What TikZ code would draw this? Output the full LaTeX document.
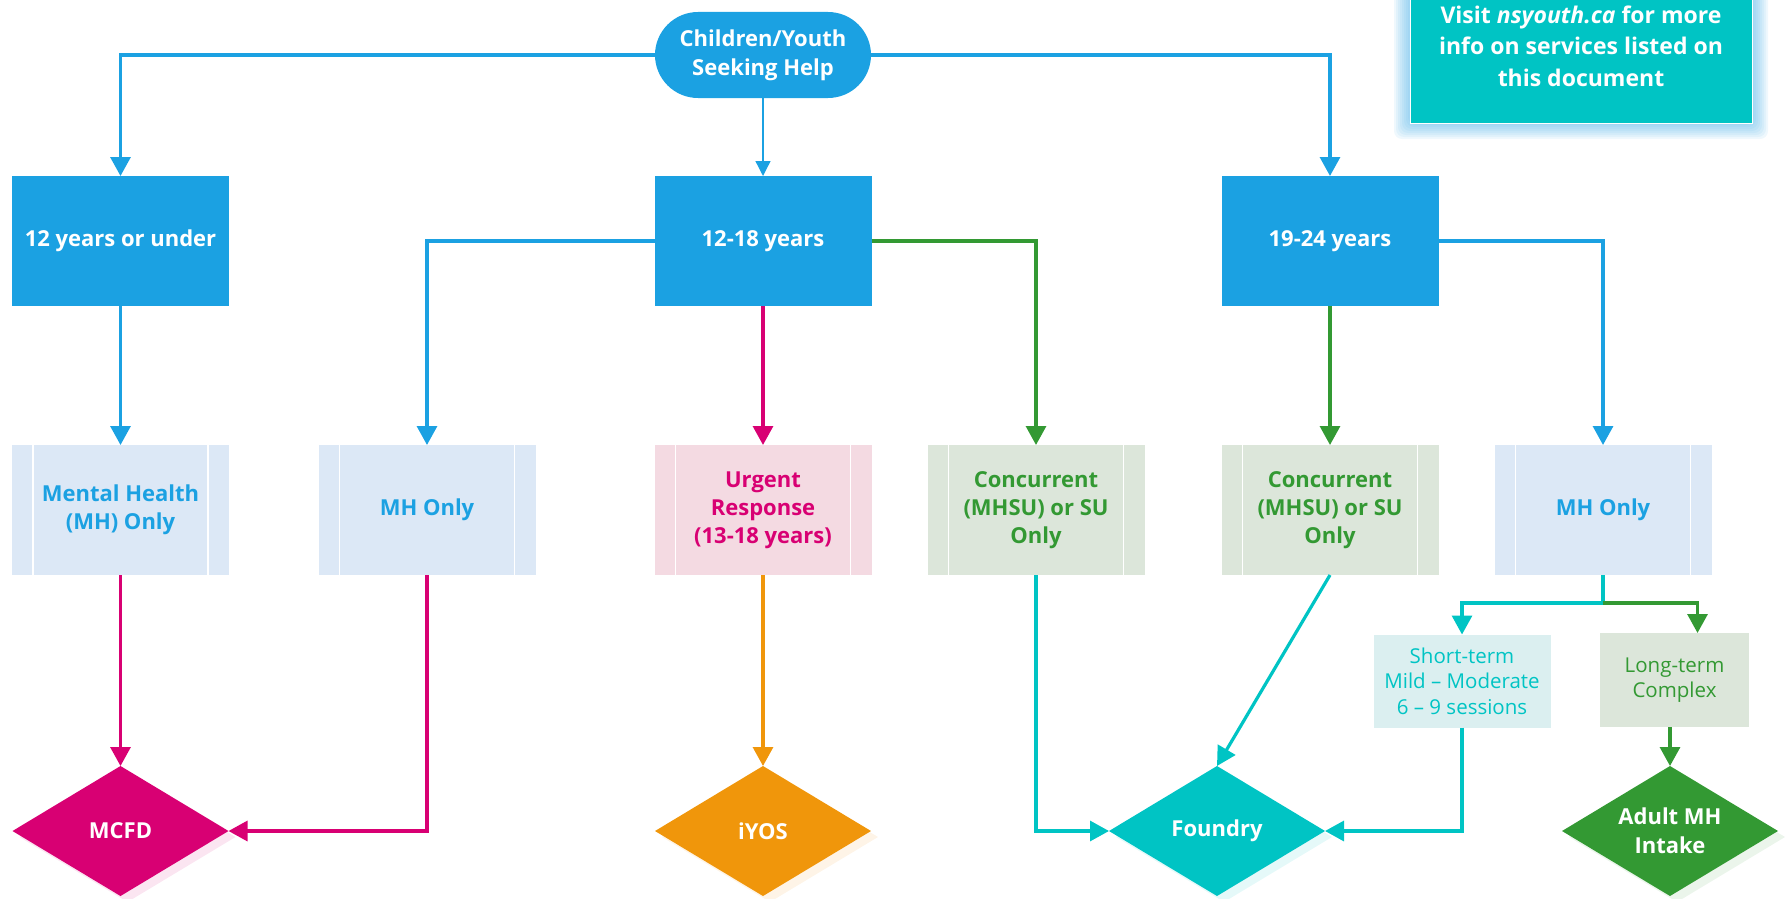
\documentclass[tikz,border=0pt]{standalone}
\usepackage{fontspec}
\setmainfont{Open Sans}
\usetikzlibrary{arrows.meta,positioning,shapes,shadows}

\definecolor{tileblue}{HTML}{1BA1E2}
\definecolor{tilemagenta}{HTML}{D80073}
\definecolor{tileorange}{HTML}{F0960B}
\definecolor{tilegreen}{HTML}{339933}
\definecolor{tileteal}{HTML}{00C4C4}
\definecolor{paleblue}{HTML}{DCE8F6}
\definecolor{palepink}{HTML}{F4DAE2}
\definecolor{palegreen}{HTML}{DCE6DA}
\definecolor{paleteal}{HTML}{DBEFF0}
\definecolor{glowblue}{HTML}{4FB2E8}

\begin{document}
\begin{tikzpicture}[x=1pt,y=-1pt]
		\tikzstyle{entry}=[rectangle, rounded corners=43pt, fill=tileblue, text=white, font=\bfseries\fontsize{22}{29}\selectfont, align=center, minimum width=216pt, minimum height=86pt, inner sep=0pt, outer sep=0pt]
		\tikzstyle{age}=[rectangle, fill=tileblue, text=white, font=\bfseries\fontsize{22}{29}\selectfont, minimum width=217pt, minimum height=130pt, inner sep=0pt, outer sep=0pt]
		\tikzstyle{service}=[rectangle, font=\bfseries\fontsize{22}{28}\selectfont, align=center, minimum width=217pt, minimum height=130pt, inner sep=0pt, outer sep=0pt, path picture={\draw[white, line width=1.5pt] ([xshift=21pt]path picture bounding box.north west) -- ([xshift=21pt]path picture bounding box.south west) ([xshift=-21pt]path picture bounding box.north east) -- ([xshift=-21pt]path picture bounding box.south east);}]
		\tikzstyle{term}=[rectangle, font=\fontsize{20.5}{25.5}\selectfont, align=center, inner sep=0pt, outer sep=0pt]
		\tikzstyle{outcome}=[diamond, aspect=1.66, text=white, font=\bfseries\fontsize{22}{29}\selectfont, align=center, minimum width=216pt, minimum height=130pt, inner sep=0pt, outer sep=0pt]
		\tikzstyle{visitbox}=[rectangle, fill=tileteal, draw=white, line width=1pt, text=white, font=\bfseries\fontsize{23}{31.5}\selectfont, align=center, minimum width=342pt, minimum height=154pt]
		\tikzstyle{flow}=[line width=3.2pt, arrows={-Triangle[length=19pt,width=20pt]}]
		\tikzstyle{thinflow}=[line width=1.3pt, tileblue, arrows={-Triangle[length=15pt,width=15pt]}]

		\useasboundingbox (0,0) rectangle (1785,899);

		\foreach \g in {16,14,...,2}
			\fill[glowblue, opacity=0.09, rounded corners=8pt] (1410-\g,-40) rectangle (1752+\g,123+\g);
		\node[visitbox] (visit) at (1581,46) {Visit \textit{nsyouth.ca} for more\\info on services listed on\\this document};

		\node[entry] (seek) at (763,55) {Children/Youth\\Seeking Help};

		\node[age] (under12) at (120.5,241) {12 years or under};
		\node[age] (teen) at (763,241) {12-18 years};
		\node[age] (young) at (1330,241) {19-24 years};

		\node[service, fill=paleblue, text=tileblue] (mhfull) at (120.5,510) {Mental Health\\(MH) Only};
		\node[service, fill=paleblue, text=tileblue] (mhteen) at (427,510) {MH Only};
		\node[service, fill=palepink, text=tilemagenta] (urgent) at (763,510) {Urgent\\Response\\(13-18 years)};
		\node[service, fill=palegreen, text=tilegreen] (concteen) at (1036,510) {Concurrent\\(MHSU) or SU\\Only};
		\node[service, fill=palegreen, text=tilegreen] (concyoung) at (1330,510) {Concurrent\\(MHSU) or SU\\Only};
		\node[service, fill=paleblue, text=tileblue] (mhyoung) at (1603,510) {MH Only};

		\node[term, fill=paleteal, text=tileteal, minimum width=177pt, minimum height=93pt] (short) at (1462,681) {Short-term\\Mild -- Moderate\\6 -- 9 sessions};
		\node[term, fill=palegreen, text=tilegreen, minimum width=149pt, minimum height=94pt] (long) at (1674.5,680) {Long-term\\Complex};

		\node[outcome, fill=tilemagenta, drop shadow={shadow xshift=7pt, shadow yshift=-6pt, fill=tilemagenta!10, opacity=1}] (mcfd) at (120.5,831) {MCFD};
		\node[outcome, fill=tileorange, drop shadow={shadow xshift=7pt, shadow yshift=-6pt, fill=tileorange!10, opacity=1}] (iyos) at (763,831) {iYOS};
		\node[outcome, fill=tileteal, drop shadow={shadow xshift=7pt, shadow yshift=-6pt, fill=tileteal!10, opacity=1}] (foundry) at (1217,831) {Foundry};
		\node[outcome, fill=tilegreen, drop shadow={shadow xshift=7pt, shadow yshift=-6pt, fill=tilegreen!10, opacity=1}] (adult) at (1670,831) {Adult MH\\Intake};

		\draw[flow, tileblue] (seek.west) -| (under12.north);
		\draw[flow, tileblue] (seek.east) -| (young.north);
		\draw[thinflow] (seek) -- (teen);

		\draw[flow, tileblue] (under12) -- (mhfull);
		\draw[flow, tileblue] (teen.west) -| (mhteen.north);
		\draw[flow, tilemagenta] (teen) -- (urgent);
		\draw[flow, tilegreen] (teen.east) -| (concteen.north);
		\draw[flow, tilegreen] (young) -- (concyoung);
		\draw[flow, tileblue] (young.east) -| (mhyoung.north);

		\draw[flow, tilemagenta] (mhfull) -- (mcfd);
		\draw[flow, tilemagenta] (mhteen.south) |- (mcfd.east);
		\draw[flow, tileorange] (urgent) -- (iyos);
		\draw[flow, tileteal] (concteen.south) |- (foundry.west);
		\draw[flow, tileteal] (concyoung.south) -- (foundry.north);

		\coordinate (split) at (1603,603);
		\draw[line width=3.2pt, tileteal] (mhyoung.south) -- (split);
		\draw[flow, tileteal] (split) -| (short.north);
		\draw[flow, tilegreen] (split) -| ([xshift=23pt]long.north);
		\draw[flow, tileteal] (short.south) |- (foundry.east);
		\draw[flow, tilegreen] (adult.north |- long.south) -- (adult.north);
\end{tikzpicture}
\end{document}
